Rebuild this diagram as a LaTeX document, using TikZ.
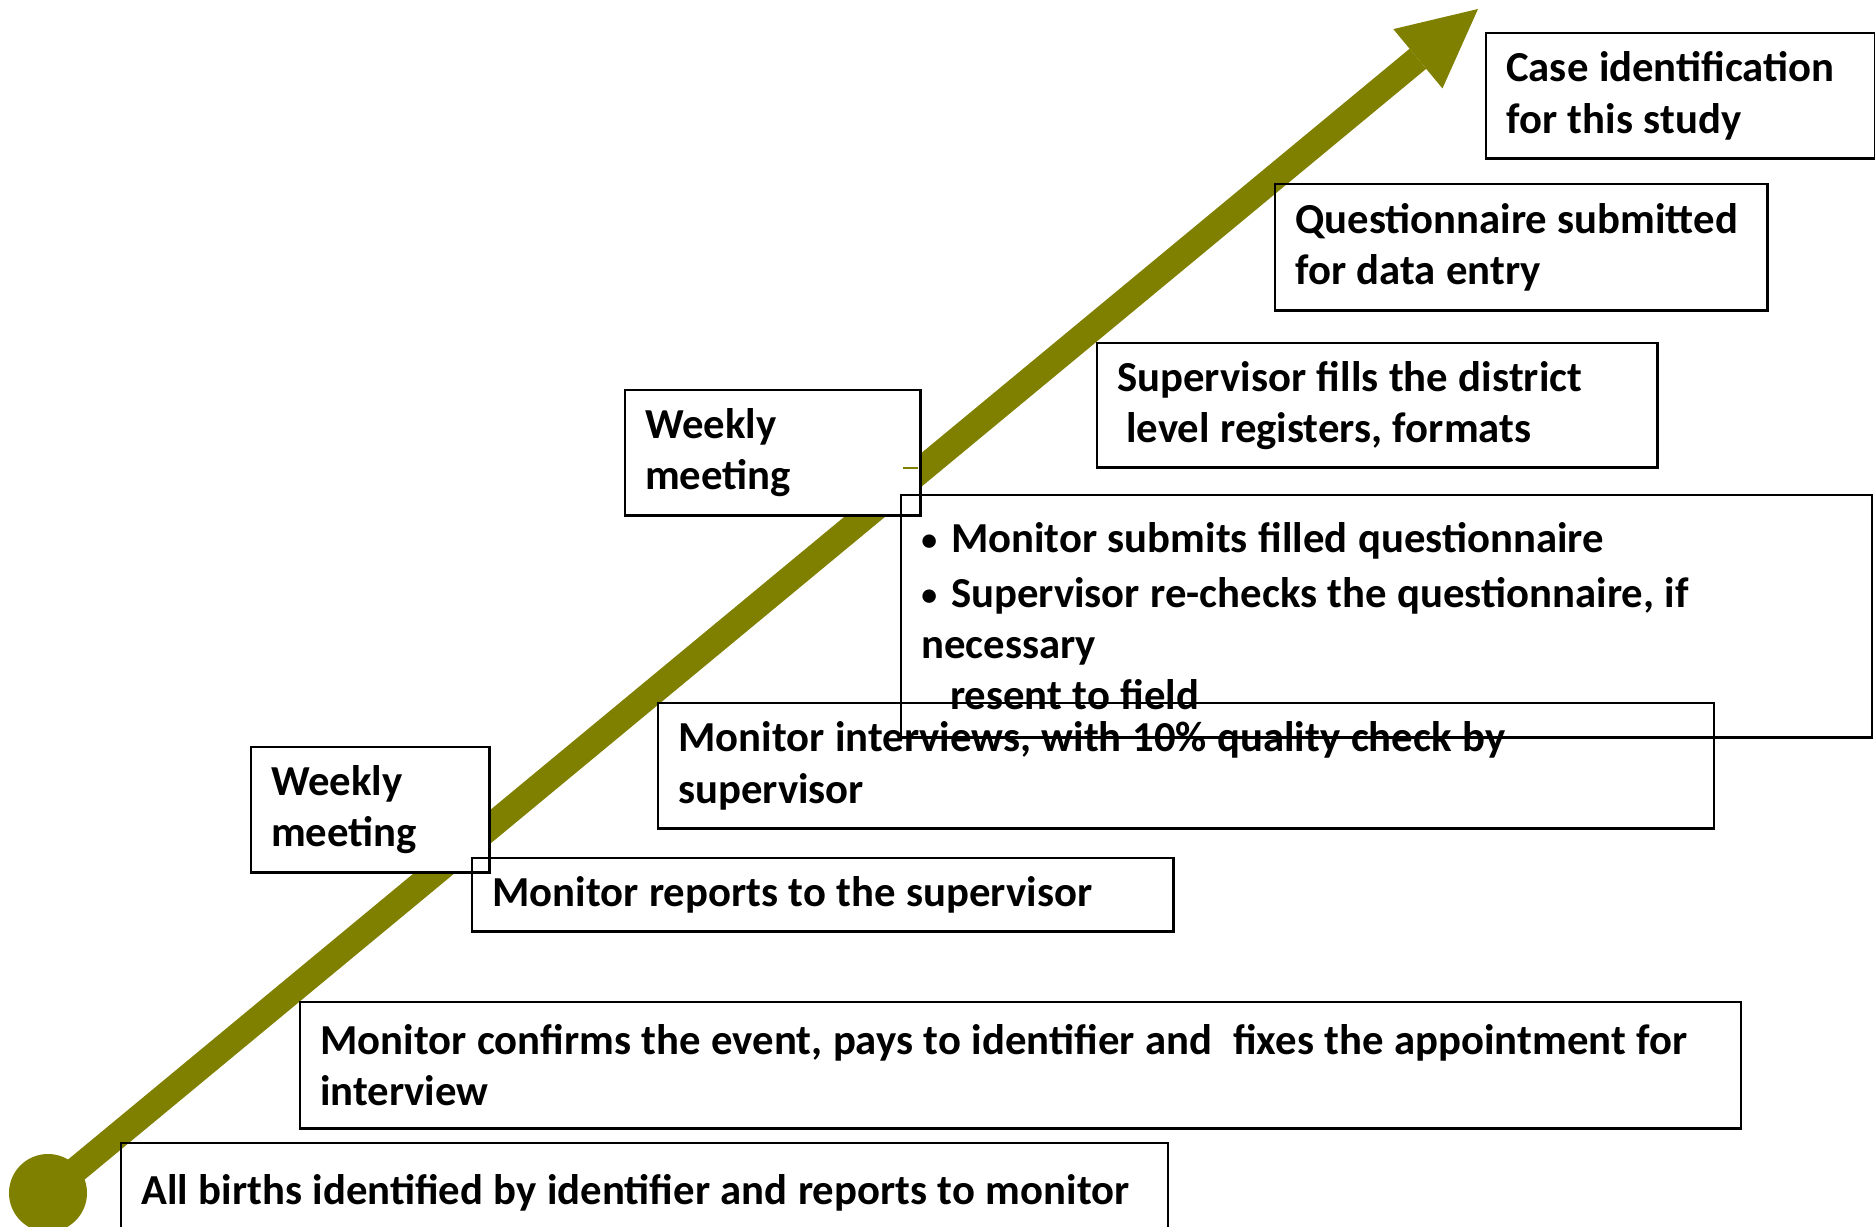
\documentclass[tikz,border=0pt]{standalone}
\usepackage{fontspec}
\setmainfont{Carlito}
\usetikzlibrary{arrows.meta,positioning}
\definecolor{stageolive}{RGB}{128,128,0}
\newcommand{\stagebullet}{{\fontsize{9}{9}\selectfont\raisebox{0.5pt}{\textbullet}}\hspace{0.14cm}}

\tikzset{
  stagebox/.style={draw, line width=0.7pt, anchor=north west, align=left,
    inner xsep=0.2cm, inner ysep=0pt, font=\bfseries\fontsize{12.15}{14.6}\selectfont,
    execute at begin node={\spaceskip=3pt plus 0.5pt minus 0.3pt\xspaceskip=0pt}},
  meetbox/.style={stagebox, fill=white},
  progress/.style={stageolive, line width=0.26cm,
    -{Triangle[length=0.78cm,width=0.77cm,line width=0pt]}},
}

\begin{document}
\begin{tikzpicture}[x=0.01cm,y=-0.01cm]
		\useasboundingbox (0,0) rectangle (1875,1227);
		% the rising arrow
		\node[circle, fill=stageolive, minimum size=0.78cm, inner sep=0pt] (origin) at (48,1193) {};
		\coordinate (tip) at (1478,9);
		\draw[progress] (origin.center) -- (tip);

		% weekly meetings sit on top of the arrow
		\node[meetbox, minimum width=2.38cm, minimum height=1.25cm, text width=1.98cm] (meet1) at (250,746) {Weekly\\meeting};
		\node[meetbox, minimum width=2.95cm, minimum height=1.25cm, text width=2.55cm] (meet2) at (624,389) {Weekly\\meeting};
		\draw[stageolive, line width=0.6pt] (903,468) -- (918,468);

		% steps
		\node[stagebox, minimum width=10.46cm, minimum height=1cm, text width=10.06cm] (births) at (120,1142) {All births identified by identifier and reports to monitor};
		\node[stagebox, minimum width=14.4cm, minimum height=1.26cm, text width=14cm] (confirm) at (299,1001) {Monitor confirms the event, pays to identifier and~ fixes the appointment for\\interview};
		\node[stagebox, minimum width=7.01cm, minimum height=0.73cm, text width=6.61cm] (report) at (471,857) {Monitor reports to the supervisor};
		\node[stagebox, minimum width=10.55cm, minimum height=1.25cm, text width=10.15cm] (interview) at (657,702) {Monitor interviews, with 10\% quality check by\\supervisor};
		\node[stagebox, minimum width=9.7cm, minimum height=2.42cm, text width=9.3cm] (submit) at (900,494) {\stagebullet Monitor submits filled questionnaire\\[1pt]\stagebullet Supervisor re-checks the questionnaire, if\\necessary\\\hspace*{0.29cm}resent to field};
		\node[stagebox, minimum width=5.6cm, minimum height=1.24cm, text width=5.2cm] (register) at (1096,342) {Supervisor fills the district\\\hspace*{0.09cm}level registers, formats};
		\node[stagebox, minimum width=4.92cm, minimum height=1.26cm, text width=4.52cm] (entry) at (1274,183) {Questionnaire submitted\\for data entry};
		\node[stagebox, minimum width=3.89cm, minimum height=1.25cm, text width=3.49cm] (caseid) at (1485,32) {Case identification\\for this study};
	\end{tikzpicture}
\end{document}
